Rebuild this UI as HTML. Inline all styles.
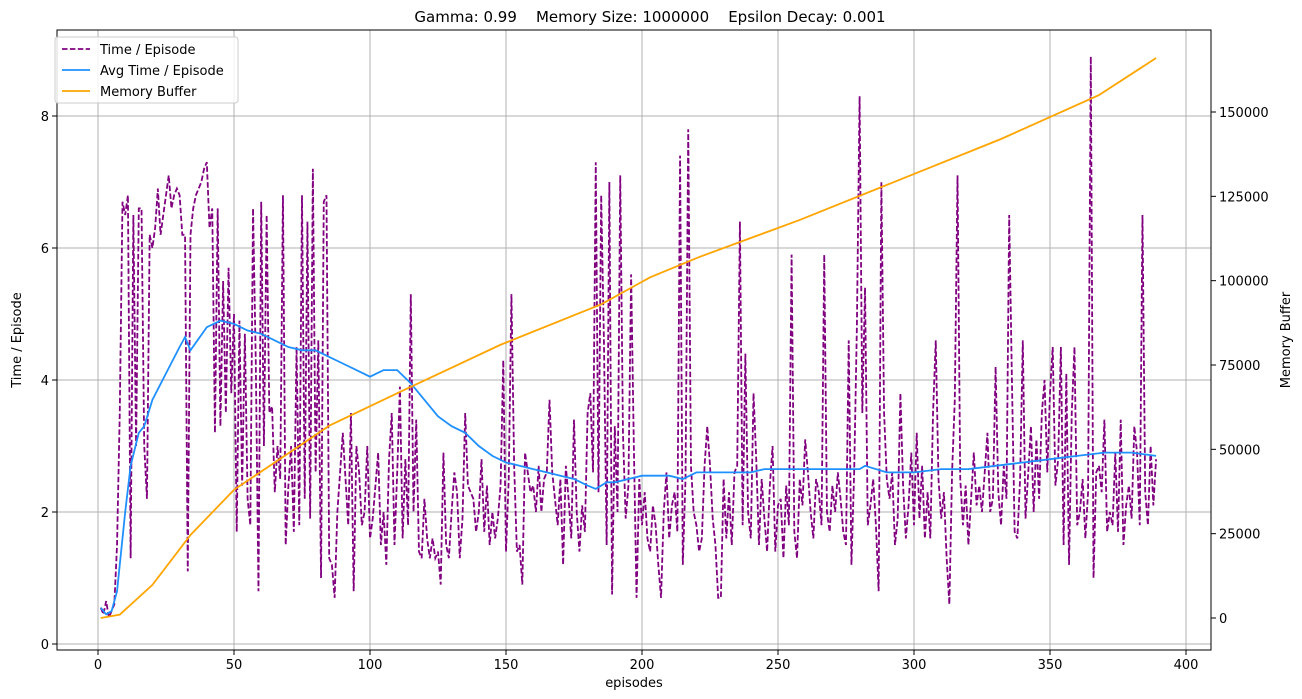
<!DOCTYPE html>
<html><head><meta charset="utf-8"><style>
body{margin:0;background:#fff;}
svg{display:block;font-family:"DejaVu Sans","Liberation Sans",sans-serif;}
</style></head><body>
<svg id="chart" width="1302" height="699" viewBox="0 0 1302 699">
<text x="650" y="22" text-anchor="middle" font-size="15" style="white-space:pre" xml:space="preserve">Gamma: 0.99    Memory Size: 1000000    Epsilon Decay: 0.001</text>
<g id="grid"></g><g id="series"></g><g id="axes"></g>
</svg>
<script>
const xTicks=[0,50,100,150,200,250,300,350,400];
const yTicks=[0,2,4,6,8];
const y2Ticks=[0,25000,50000,75000,100000,125000,150000];
const timePerEpisode=[0.55,0.45,0.65,0.4,0.5,0.6,1.5,3.5,6.7,6.5,
6.8,1.3,6.5,3.0,6.6,6.6,3.0,2.2,6.2,6.0,
6.3,6.9,6.2,6.5,6.8,7.1,6.6,6.8,6.9,6.8,
6.2,6.2,1.1,6.2,6.6,6.8,6.9,7.0,7.2,7.3,
6.3,6.6,3.2,6.6,3.3,5.5,3.5,5.7,3.8,5.0,
1.7,4.9,2.4,4.7,2.2,1.8,6.6,4.3,0.8,6.7,
3.0,6.5,3.5,3.6,2.3,3.0,2.5,6.8,1.5,2.4,
3.0,1.7,4.5,1.8,6.8,2.2,6.4,1.9,7.2,2.6,
4.6,1.0,6.7,6.8,1.3,1.2,0.7,2.0,2.6,3.2,
2.5,1.8,3.5,0.8,3.0,2.6,1.8,2.0,3.0,1.6,
1.9,2.4,2.9,1.5,2.0,1.2,2.8,3.5,1.5,2.6,
3.9,1.6,2.8,1.8,5.3,2.0,3.4,1.4,1.3,2.2,
1.6,1.3,1.6,1.3,1.4,0.9,2.9,1.5,1.3,2.0,
2.6,2.3,1.3,1.9,3.5,2.4,2.3,2.2,1.7,2.0,
2.8,1.7,2.4,1.5,2.0,1.6,1.9,2.4,4.3,1.4,
2.5,5.3,2.7,1.4,1.5,0.9,2.9,2.6,2.3,2.4,
2.0,2.7,2.0,2.5,2.6,3.7,2.6,2.2,1.8,2.5,
1.2,2.7,2.2,1.6,3.4,2.0,1.4,2.1,1.7,3.5,
3.8,2.6,7.3,2.3,6.8,4.6,1.5,7.0,0.75,3.3,
2.0,7.1,3.2,1.9,2.4,5.6,3.0,0.7,2.5,1.8,
2.3,1.6,1.4,2.1,1.8,1.2,0.7,2.0,2.6,1.6,
2.1,2.3,1.7,7.4,1.2,2.5,7.8,2.7,2.0,1.8,
1.4,1.6,2.7,3.3,2.7,1.9,1.5,0.7,0.7,2.5,
1.6,2.3,1.5,2.6,2.7,6.4,1.8,4.4,2.0,1.6,
3.8,2.8,1.5,2.5,1.9,1.4,2.4,3.0,1.4,2.1,
2.2,1.3,2.4,1.8,5.9,1.7,1.3,2.5,2.1,3.1,
2.6,2.0,1.6,2.5,2.3,1.8,5.9,2.0,1.7,2.4,
2.0,2.6,2.2,1.7,1.5,4.6,1.2,2.6,4.8,8.3,
3.5,5.4,1.8,2.1,2.5,1.8,0.8,7.0,3.5,2.5,
2.2,2.6,1.5,1.9,3.8,2.4,1.6,2.1,2.9,1.8,
3.2,1.9,2.7,1.6,2.3,1.6,3.5,4.6,2.5,1.9,
2.3,1.3,0.6,2.6,3.7,7.1,2.5,1.8,2.4,1.5,
2.2,2.9,2.1,2.4,2.0,2.6,3.2,2.0,2.2,4.2,
2.3,1.8,2.7,2.2,6.5,4.0,1.7,1.6,2.5,4.6,
1.9,2.6,3.3,2.0,3.1,2.2,3.5,4.0,2.6,3.8,
4.5,2.4,2.8,4.5,1.5,4.1,1.2,3.5,4.5,1.8,
2.0,2.5,1.6,2.3,8.9,1.0,2.6,2.7,2.3,3.4,
1.7,2.0,1.8,2.9,1.7,3.4,1.5,2.1,2.4,1.9,
3.3,2.9,1.8,6.5,2.3,1.8,3.0,2.1,2.8];
const avgEpisodes=[1,3,5,7,10,12,15,17,20,25,30,32,34,40,45,50,55,60,65,70,75,80,85,90,95,100,105,110,115,120,125,130,135,140,145,150,155,160,165,170,175,180,183,187,190,200,210,215,220,230,240,245,250,260,270,280,282,290,300,310,320,330,340,350,360,370,380,389];
const avgValues=[0.55,0.45,0.5,0.8,2.0,2.7,3.2,3.3,3.7,4.1,4.5,4.65,4.45,4.8,4.9,4.85,4.75,4.7,4.6,4.5,4.45,4.45,4.35,4.25,4.15,4.05,4.15,4.15,3.95,3.7,3.45,3.3,3.2,3.0,2.85,2.75,2.7,2.65,2.6,2.55,2.5,2.4,2.35,2.45,2.45,2.55,2.55,2.5,2.6,2.6,2.6,2.65,2.65,2.65,2.65,2.65,2.7,2.6,2.6,2.65,2.65,2.7,2.75,2.8,2.85,2.9,2.9,2.85];
const memEpisodes=[1,8,20,34,50,74,85,111,148,185,203,221,258,295,332,368,389];
const memValues=[0,1000,9800,24600,38000,51000,57000,67000,81000,93000,101000,107000,118000,130000,142000,155000,166000];

const L=57,R=1211,T=30,B=650;
const xs=v=>98+v*2.72, ys=v=>644-v*66, ys2=v=>618-v*506/150000;
const NS="http://www.w3.org/2000/svg";
function mk(tag,attrs,parent,text){const e=document.createElementNS(NS,tag);for(const k in attrs)e.setAttribute(k,attrs[k]);if(text!==undefined)e.textContent=text;parent.appendChild(e);return e;}
const grid=document.getElementById('grid'),series=document.getElementById('series'),axes=document.getElementById('axes');
xTicks.forEach(t=>{const x=xs(t);
 const g=mk('line',{x1:x,x2:x,y1:T,y2:B,stroke:'#b0b0b0','stroke-width':1},grid);
 
 mk('line',{x1:x,x2:x,y1:B,y2:B+5,stroke:'#000'},axes);
 const l=mk('text',{x:x,y:B+19,'text-anchor':'middle','font-size':13},axes,String(t));
 });
yTicks.forEach(t=>{const y=ys(t);
 const g=mk('line',{x1:L,x2:R,y1:y,y2:y,stroke:'#b0b0b0','stroke-width':1},grid);
 
 mk('line',{x1:L-5,x2:L,y1:y,y2:y,stroke:'#000'},axes);
 const l=mk('text',{x:L-8,y:y+5,'text-anchor':'end','font-size':13},axes,String(t));
 });
y2Ticks.forEach(t=>{const y=ys2(t);
 mk('line',{x1:R,x2:R+5,y1:y,y2:y,stroke:'#000'},axes);
 const l=mk('text',{x:R+8,y:y+5,'text-anchor':'start','font-size':13},axes,String(t));
 });
const frame=mk('rect',{x:L,y:T,width:R-L,height:B-T,fill:'none',stroke:'#000','stroke-width':1},axes);

let xl=mk('text',{x:634,y:687,'text-anchor':'middle','font-size':13},axes,'episodes');

let yl=mk('text',{x:21,y:340,'text-anchor':'middle','font-size':13,transform:'rotate(-90 21 340)'},axes,'Time / Episode');

let y2l=mk('text',{x:1290,y:340,'text-anchor':'middle','font-size':13,transform:'rotate(-90 1290 340)'},axes,'Memory Buffer');


const p1=mk('polyline',{points:timePerEpisode.map((v,i)=>xs(i+1)+','+ys(v)).join(' '),fill:'none',stroke:'#800080','stroke-width':1.8,'stroke-dasharray':'5.5,2.4'},series);

const p2=mk('polyline',{points:avgValues.map((v,i)=>xs(avgEpisodes[i])+','+ys(v)).join(' '),fill:'none',stroke:'#1e90ff','stroke-width':1.8},series);

const p3=mk('polyline',{points:memValues.map((v,i)=>xs(memEpisodes[i])+','+ys2(v)).join(' '),fill:'none',stroke:'#ffa500','stroke-width':1.8},series);


const lg=mk('g',{},axes);

mk('rect',{x:55,y:37,width:183,height:66,rx:3,fill:'#fff','fill-opacity':0.85,stroke:'#ccc'},lg);
const entries=[['Time / Episode','#800080','5.5,2.4'],['Avg Time / Episode','#1e90ff',''],['Memory Buffer','#ffa500','']];
entries.forEach((e,i)=>{const y=49+i*21;
 const eg=mk('g',{},lg);
 
 const a={x1:62,x2:90,y1:y,y2:y,stroke:e[1],'stroke-width':1.8};if(e[2])a['stroke-dasharray']=e[2];
 mk('line',a,eg);mk('text',{x:100,y:y+5,'font-size':13},eg,e[0]);});
</script>
</body></html>
